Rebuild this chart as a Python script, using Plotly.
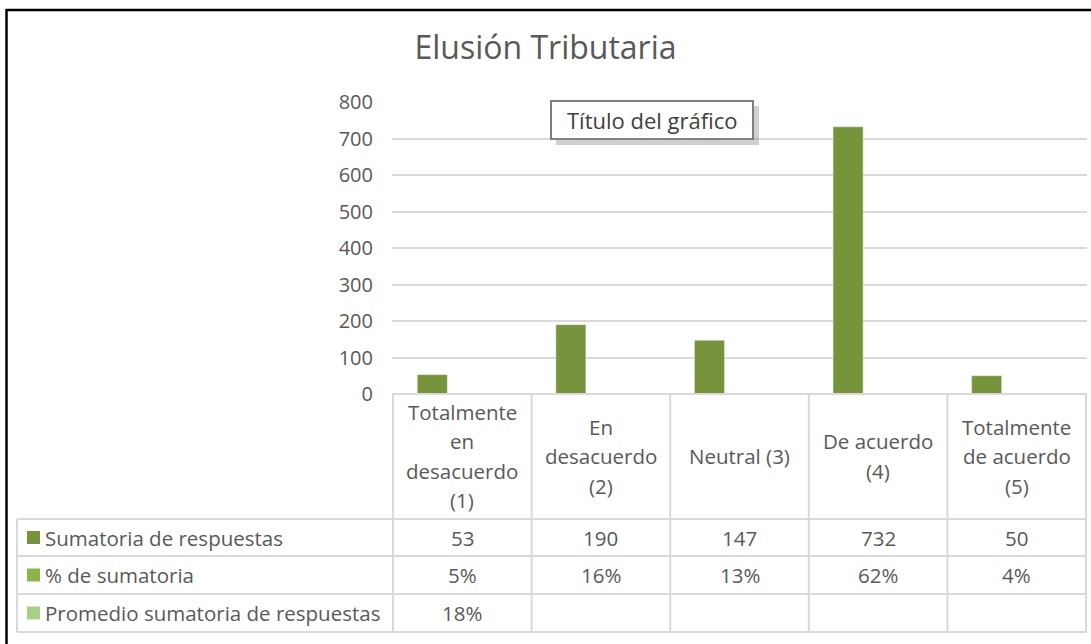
import plotly.graph_objects as go

# ---------------- data ----------------
categories = ["Totalmente en desacuerdo (1)", "En desacuerdo (2)", "Neutral (3)",
              "De acuerdo (4)", "Totalmente de acuerdo (5)"]
header_lines = [["Totalmente", "en", "desacuerdo", "(1)"],
                ["En", "desacuerdo", "(2)"],
                ["Neutral (3)"],
                ["De acuerdo", "(4)"],
                ["Totalmente", "de acuerdo", "(5)"]]
series_names = ["Sumatoria de respuestas", "% de sumatoria", "Promedio sumatoria de respuestas"]
sumatoria = [53, 190, 147, 732, 50]
porcentaje = [0.05, 0.16, 0.13, 0.62, 0.04]
promedio = [0.18, None, None, None, None]
y_ticks = [0, 100, 200, 300, 400, 500, 600, 700, 800]
title_text = "Elusión Tributaria"
box_text = "Título del gráfico"

# ---------------- styling ----------------
W, H = 1091, 644
L, R, T, B = 392, 1087, 102, 394
colors = ["#77933C", "#8DB44B", "#AACF86"]
grid = "#D9D9D9"
txt = "#595959"
FONT = "Open Sans"


def px(x):
    return (x - L) / (R - L)


def py(y):
    return (B - y) / (B - T)


fig = go.Figure()
fig.add_trace(go.Bar(x=categories, y=sumatoria, name=series_names[0], marker_color=colors[0]))
fig.add_trace(go.Bar(x=categories, y=porcentaje, name=series_names[1], marker_color=colors[1]))
fig.add_trace(go.Bar(x=categories, y=promedio, name=series_names[2], marker_color=colors[2]))

shapes = []
annotations = []

# table horizontal lines
row_y = [519, 556, 594, 632]
shapes.append(dict(type="line", xref="paper", yref="paper", x0=px(L), x1=px(R), y0=py(394), y1=py(394),
                   line=dict(color=grid, width=2)))
for yy in row_y:
    shapes.append(dict(type="line", xref="paper", yref="paper", x0=px(17), x1=px(R), y0=py(yy), y1=py(yy),
                       line=dict(color=grid, width=2)))
# vertical lines
n = len(categories)
for i in range(n + 1):
    shapes.append(dict(type="line", xref="x", yref="paper", x0=i - 0.5, x1=i - 0.5, y0=py(394), y1=py(632),
                       line=dict(color=grid, width=2)))
shapes.append(dict(type="line", xref="paper", yref="paper", x0=px(17), x1=px(17), y0=py(519), y1=py(632),
                   line=dict(color=grid, width=2)))

# header text
for i, lines in enumerate(header_lines):
    k = len(lines)
    for j, ln in enumerate(lines):
        yy = 456 + (j - (k - 1) / 2) * 29.5
        annotations.append(dict(x=categories[i], xref="x", yref="paper", y=py(yy), text=ln,
                                showarrow=False, xanchor="center", yanchor="middle",
                                font=dict(family=FONT, size=20.5, color=txt)))

# rows
row_centers = [537.5, 575, 613]
row_values = [[str(v) for v in sumatoria],
              [f"{round(v*100)}%" for v in porcentaje],
              [("" if v is None else f"{round(v*100)}%") for v in promedio]]
for r in range(3):
    yc = row_centers[r]
    shapes.append(dict(type="rect", xref="paper", yref="paper", x0=px(27), x1=px(40),
                       y0=py(yc - 6.5), y1=py(yc + 6.5), fillcolor=colors[r], line=dict(width=0)))
    annotations.append(dict(x=px(43), xref="paper", yref="paper", y=py(yc), text=series_names[r],
                            showarrow=False, xanchor="left", yanchor="middle",
                            font=dict(family=FONT, size=20.5, color=txt)))
    for i in range(n):
        if row_values[r][i]:
            annotations.append(dict(x=categories[i], xref="x", yref="paper", y=py(yc), text=row_values[r][i],
                                    showarrow=False, xanchor="center", yanchor="middle",
                                    font=dict(family=FONT, size=20.5, color=txt)))

# "Título del gráfico" box with shadow
shapes.append(dict(type="rect", xref="paper", yref="paper", x0=px(556), x1=px(759), y0=py(106), y1=py(145),
                   fillcolor="rgba(120,120,120,0.35)", line=dict(width=0)))
shapes.append(dict(type="rect", xref="paper", yref="paper", x0=px(551), x1=px(753), y0=py(101), y1=py(139),
                   fillcolor="white", line=dict(color="#7F7F7F", width=2)))
annotations.append(dict(x=px(652), xref="paper", yref="paper", y=py(120), text=box_text, showarrow=False,
                        xanchor="center", yanchor="middle", font=dict(family=FONT, size=22, color="#404040")))

# black frame (top and left)
shapes.append(dict(type="line", xref="paper", yref="paper", x0=px(6), x1=px(1091), y0=py(10), y1=py(10),
                   line=dict(color="black", width=2.5)))
shapes.append(dict(type="line", xref="paper", yref="paper", x0=px(6.5), x1=px(6.5), y0=py(9), y1=py(644),
                   line=dict(color="black", width=2.5)))

fig.update_layout(
    width=W, height=H,
    margin=dict(l=L, r=W - R, t=T, b=H - B, autoexpand=False),
    paper_bgcolor="white", plot_bgcolor="white",
    barmode="group", bargap=0.35, bargroupgap=0,
    showlegend=False,
    title=dict(text=title_text, x=0.5, xref="container", xanchor="center",
               y=1 - 48 / H, yref="container", yanchor="middle",
               font=dict(family=FONT, size=32, color=txt)),
    shapes=shapes, annotations=annotations,
)
fig.update_xaxes(showticklabels=False, showgrid=False, showline=False, zeroline=False, ticks="")
fig.update_yaxes(range=[0, 800], tickvals=y_ticks, showgrid=True, gridcolor=grid, gridwidth=1.5,
                 zeroline=False, showline=False, ticks="", ticklabelstandoff=18,
                 tickfont=dict(family=FONT, size=20, color=txt))

fig.write_html("out.html", config={"displayModeBar": False},
               post_script="document.body.style.margin='0px';")
